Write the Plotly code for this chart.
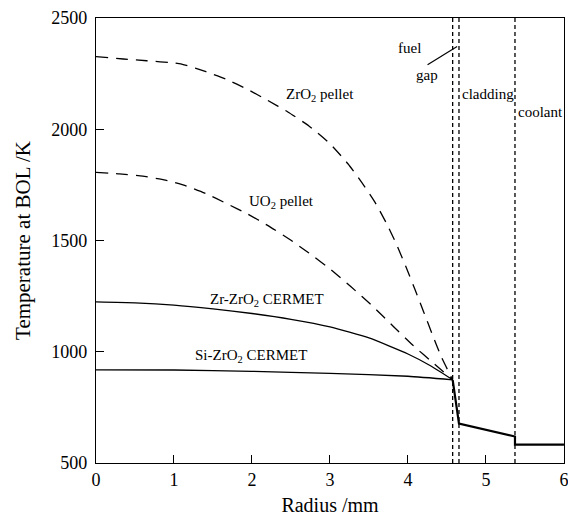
import plotly.graph_objects as go

# ---- data ----
zro2_r = [0, 0.35, 0.65, 1.0, 1.13, 1.41, 1.67, 1.94, 2.2, 2.46, 2.73, 3.0, 3.23, 3.4, 3.58, 3.72, 3.85, 3.97, 4.09, 4.2, 4.31, 4.43, 4.573]
zro2_t = [2327, 2316, 2308, 2298, 2290, 2259, 2225, 2180, 2130, 2078, 2015, 1935, 1845, 1765, 1670, 1580, 1485, 1385, 1280, 1180, 1080, 975, 874]

uo2_r = [0, 0.3, 0.6, 0.89, 1.16, 1.41, 1.67, 1.94, 2.2, 2.47, 2.73, 3.01, 3.27, 3.55, 3.81, 4.06, 4.34, 4.573]
uo2_t = [1806, 1800, 1789, 1772, 1745, 1711, 1667, 1620, 1568, 1508, 1444, 1370, 1292, 1204, 1115, 1030, 945, 874]

zr_cermet_r = [0, 0.5, 1.0, 1.5, 2.0, 2.5, 3.0, 3.5, 4.0, 4.3, 4.573]
zr_cermet_t = [1224, 1220, 1210, 1193, 1172, 1146, 1112, 1062, 990, 935, 874]

si_cermet_r = [0, 1.0, 2.0, 3.0, 4.0, 4.573]
si_cermet_t = [919, 918, 912, 903, 890, 874]

common_r = [4.573, 4.654, 5.372, 5.372, 6.0]
common_t = [874, 677, 619, 583, 583]

boundaries = [4.573, 4.654, 5.372]

x_ticks = [0, 1, 2, 3, 4, 5, 6]
y_ticks = [500, 1000, 1500, 2000, 2500]

FONT = "Liberation Serif"

fig = go.Figure()

dash_curve = "12px,8px"
for r, t in [(zro2_r, zro2_t), (uo2_r, uo2_t)]:
    fig.add_trace(go.Scatter(x=r, y=t, mode="lines",
                             line=dict(color="black", width=1.3, dash=dash_curve, shape="spline", smoothing=0.5),
                             showlegend=False, hoverinfo="skip"))
for r, t in [(zr_cermet_r, zr_cermet_t), (si_cermet_r, si_cermet_t)]:
    fig.add_trace(go.Scatter(x=r, y=t, mode="lines",
                             line=dict(color="black", width=1.3, shape="spline", smoothing=0.5),
                             showlegend=False, hoverinfo="skip"))
fig.add_trace(go.Scatter(x=common_r, y=common_t, mode="lines",
                         line=dict(color="black", width=2.2),
                         showlegend=False, hoverinfo="skip"))

for b in boundaries:
    fig.add_shape(type="line", xref="x", yref="y", x0=b, x1=b, y0=500, y1=2500,
                  line=dict(color="black", width=1.3, dash="4px,3px"))

# pointer from "gap" label to gap
fig.add_shape(type="line", xref="x", yref="y", x0=4.251, y0=2290, x1=4.63, y1=2372,
              line=dict(color="black", width=1.2))

ann_font = dict(family=FONT, size=15, color="black")
labels = [
    (2.41, 2155, "ZrO<sub>2</sub> pellet", "left"),
    (1.937, 1674, "UO<sub>2</sub> pellet", "left"),
    (1.437, 1234, "Zr-ZrO<sub>2</sub> CERMET", "left"),
    (1.25, 979, "Si-ZrO<sub>2</sub> CERMET", "left"),
    (4.024, 2366, "fuel", "center"),
    (4.242, 2245, "gap", "center"),
    (5.023, 2160, "cladding", "center"),
    (5.702, 2079, "coolant", "center"),
]
for x, y, txt, anc in labels:
    fig.add_annotation(x=x, y=y, text=txt, showarrow=False, xanchor=anc, yanchor="middle",
                       font=ann_font, xref="x", yref="y")

axis_common = dict(showline=True, linecolor="black", linewidth=1.3, mirror=True,
                   ticks="inside", ticklen=8, tickwidth=1.3, tickcolor="black",
                   showgrid=False, zeroline=False, ticklabeloverflow="allow",
                   tickfont=dict(family=FONT, size=18, color="black"))

fig.update_layout(
    width=568, height=516,
    margin=dict(l=96, r=4, t=18, b=53),
    paper_bgcolor="white", plot_bgcolor="white",
    xaxis=dict(range=[0, 6.0005], tickvals=x_ticks, automargin=False,
               title=dict(text="Radius /mm", font=dict(family=FONT, size=20, color="black"), standoff=9),
               **axis_common),
    yaxis=dict(range=[500, 2500.2], tickvals=y_ticks,
               title=dict(text="Temperature at BOL /K", font=dict(family=FONT, size=21, color="black"), standoff=14),
               ticklabelstandoff=4, **axis_common),
)

fig.write_html("out.html", config={"displayModeBar": False},
               post_script="document.body.style.margin='0';document.body.style.padding='0';")
